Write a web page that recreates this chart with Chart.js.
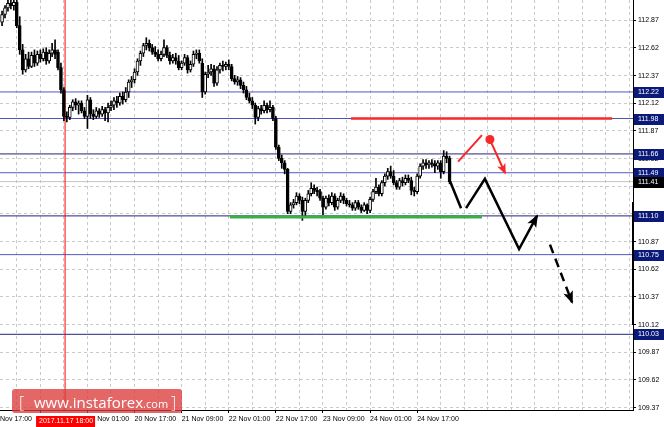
<!DOCTYPE html>
<html>
<head>
<meta charset="utf-8">
<script src="https://cdn.jsdelivr.net/npm/chart.js@4"></script>
<style>
  html, body { margin: 0; padding: 0; background: #fff; }
</style>
</head>
<body>
<canvas id="c" width="664" height="427"></canvas>
<script>
// USDJPY H1, candles (bar index 0 = left edge)
const opens = [
  112.85,112.92,112.98,113.02,113.00,113.03,112.82,112.60,112.42,112.52,
  112.45,112.55,112.48,112.56,112.52,112.58,112.50,112.57,112.60,112.58,
  112.44,112.24,112.00,111.99,112.08,112.13,112.10,112.12,112.05,112.00,
  112.15,112.02,112.00,112.05,112.02,112.06,112.03,112.08,112.10,112.14,
  112.12,112.18,112.15,112.22,112.31,112.33,112.40,112.50,112.57,112.64,
  112.66,112.62,112.58,112.56,112.52,112.56,112.62,112.55,112.50,112.53,
  112.50,112.44,112.48,112.53,112.42,112.47,112.56,112.57,112.48,112.22,
  112.38,112.40,112.43,112.30,112.42,112.46,112.45,112.47,112.45,112.34,
  112.31,112.33,112.28,112.24,112.17,112.14,112.10,111.99,112.07,112.05,
  112.10,112.06,112.08,111.98,111.72,111.62,111.58,111.52,111.14,111.20,
  111.22,111.28,111.24,111.14,111.24,111.30,111.35,111.33,111.32,111.26,
  111.18,111.26,111.22,111.28,111.18,111.24,111.28,111.24,111.21,111.20,
  111.17,111.22,111.18,111.15,111.20,111.15,111.25,111.32,111.36,111.30,
  111.40,111.46,111.50,111.46,111.40,111.36,111.42,111.40,111.44,111.42,
  111.33,111.32,111.46,111.55,111.58,111.56,111.58,111.57,111.55,111.58,
  111.50,111.64,111.62
];
const highs = [
  112.95,113.00,113.05,113.08,113.07,113.06,112.90,112.65,112.56,112.58,
  112.58,112.60,112.59,112.60,112.61,112.62,112.60,112.66,112.69,112.60,
  112.48,112.26,112.04,112.10,112.15,112.16,112.14,112.14,112.08,112.19,
  112.17,112.06,112.08,112.07,112.09,112.08,112.12,112.14,112.17,112.18,
  112.21,112.22,112.26,112.33,112.36,112.43,112.52,112.59,112.66,112.71,
  112.69,112.65,112.63,112.60,112.59,112.69,112.64,112.58,112.56,112.57,
  112.55,112.50,112.56,112.55,112.50,112.59,112.60,112.60,112.52,112.40,
  112.46,112.47,112.46,112.45,112.48,112.50,112.49,112.51,112.47,112.37,
  112.36,112.35,112.31,112.27,112.21,112.17,112.12,112.09,112.10,112.14,
  112.12,112.14,112.10,112.00,111.74,111.65,111.60,111.53,111.22,111.25,
  111.31,111.30,111.27,111.26,111.33,111.40,111.38,111.36,111.34,111.28,
  111.28,111.29,111.31,111.30,111.26,111.31,111.30,111.26,111.24,111.22,
  111.24,111.24,111.20,111.22,111.21,111.27,111.34,111.44,111.38,111.42,
  111.48,111.53,111.55,111.51,111.42,111.44,111.45,111.47,111.47,111.45,
  111.36,111.48,111.57,111.61,111.61,111.60,111.61,111.60,111.60,111.60,
  111.69,111.68,111.64
];
const lows = [
  112.82,112.89,112.95,112.97,112.96,112.80,112.56,112.38,112.40,112.43,
  112.44,112.45,112.46,112.49,112.50,112.47,112.48,112.54,112.52,112.42,
  112.21,111.96,111.95,111.97,112.05,112.06,112.02,112.03,111.98,111.89,
  111.98,111.97,111.98,111.99,112.00,111.96,111.95,112.05,112.06,112.08,
  112.10,112.11,112.13,112.17,112.26,112.30,112.37,112.46,112.54,112.60,
  112.59,112.56,112.54,112.50,112.50,112.54,112.53,112.47,112.48,112.47,
  112.42,112.42,112.46,112.39,112.40,112.45,112.52,112.48,112.17,112.20,
  112.35,112.37,112.27,112.28,112.39,112.41,112.42,112.42,112.32,112.29,
  112.28,112.25,112.21,112.15,112.12,112.07,111.93,111.96,112.02,112.03,
  112.03,112.04,111.96,111.70,111.60,111.53,111.48,111.12,111.12,111.17,
  111.20,111.21,111.06,111.10,111.22,111.28,111.30,111.28,111.24,111.11,
  111.16,111.19,111.20,111.15,111.16,111.22,111.21,111.19,111.18,111.15,
  111.15,111.16,111.13,111.14,111.12,111.13,111.23,111.30,111.28,111.28,
  111.37,111.43,111.44,111.38,111.34,111.34,111.37,111.38,111.40,111.29,
  111.28,111.30,111.44,111.52,111.53,111.53,111.54,111.49,111.52,111.44,
  111.48,111.58,111.39
];
const closes = [
  112.92,112.98,113.02,113.00,113.03,112.82,112.60,112.42,112.52,112.45,
  112.55,112.48,112.56,112.52,112.58,112.50,112.57,112.60,112.56,112.44,
  112.24,112.00,111.99,112.08,112.13,112.10,112.12,112.05,112.00,112.15,
  112.02,112.00,112.05,112.02,112.06,112.03,112.08,112.10,112.14,112.12,
  112.18,112.15,112.22,112.31,112.33,112.40,112.50,112.57,112.64,112.66,
  112.62,112.58,112.56,112.52,112.56,112.62,112.55,112.50,112.53,112.50,
  112.44,112.48,112.53,112.42,112.47,112.56,112.57,112.50,112.22,112.38,
  112.40,112.43,112.30,112.42,112.46,112.45,112.47,112.45,112.34,112.31,
  112.33,112.28,112.24,112.17,112.14,112.10,111.99,112.07,112.05,112.10,
  112.06,112.08,111.98,111.72,111.62,111.58,111.52,111.14,111.20,111.22,
  111.28,111.24,111.14,111.24,111.30,111.35,111.33,111.32,111.26,111.18,
  111.26,111.22,111.28,111.18,111.24,111.28,111.24,111.21,111.20,111.17,
  111.22,111.18,111.15,111.20,111.15,111.25,111.32,111.36,111.30,111.40,
  111.46,111.50,111.46,111.40,111.36,111.42,111.40,111.44,111.42,111.33,
  111.32,111.46,111.55,111.58,111.56,111.58,111.57,111.55,111.58,111.50,
  111.64,111.62,111.41
];

const priceTicks = [109.37,109.62,109.87,110.12,110.37,110.62,110.87,111.12,111.37,111.62,111.87,112.12,112.37,112.62,112.87];
const levels = [112.22, 111.98, 111.66, 111.49, 111.10, 110.75, 110.03];
const levelColors = ['#5656c4', '#5050bc', '#24247e', '#5656c4', '#24247e', '#5656c4', '#24247e'];
const currentPrice = 111.41;

// time axis: grid every 8 bars, labels every 16
const gridBars = [-4,5,13,21,29,37,45,53,61,69,77,85,93,101,109,117,125,133,141,149,157,165,173,181,189,197,205,213];
const labelBars = [-4, 13, 29, 45, 61, 77, 93, 109, 125, 141];
const labelTexts = ['16 Nov 17:00','17 Nov 09:00','20 Nov 01:00','20 Nov 17:00','21 Nov 09:00',
                    '22 Nov 01:00','22 Nov 17:00','23 Nov 09:00','24 Nov 01:00','24 Nov 17:00'];
const crosshairBar = 21.4;
const crosshairText = '2017.11.17 18:00';

// forecast drawing: [bar, price]
const support = { from: 77.4, to: 163.0, price: 111.09 };
const resistance = { from: 118.5, to: 207.2, price: 111.98 };
const zigzagA = [[152.2, 111.41], [155.9, 111.17]];
const zigzagB = [[157.6, 111.17], [164.0, 111.435], [175.6, 110.80], [181.7, 111.10]];
const dashedLeg = [[186.1, 110.84], [193.6, 110.32]];
const redRise = [[154.9, 111.59], [163.0, 111.83]];
const redDrop = [[165.7, 111.79], [170.8, 111.49]];
const redDot = [165.7, 111.79];
const scaleBar = [111.225, 110.115];

const xMin = -0.7, xMax = 214.3;
const yMin = 109.346, yMax = 113.051;

const FONT = "'Liberation Sans', Arial, sans-serif";

const idx = opens.map((o, i) => i);
const pts = arr => arr.map(([x, y]) => ({ x, y }));
const hline = (price, a, b) => [{ x: a, y: price }, { x: b, y: price }];
const lineDs = (data, color, width, order, extra) => Object.assign({
  type: 'line', data, borderColor: color, borderWidth: width, pointRadius: 0,
  tension: 0, fill: false, order
}, extra || {});

const datasets = [];
levels.forEach((l, k) => datasets.push(lineDs(hline(l, xMin, xMax), levelColors[k], 1, 9)));
datasets.push(lineDs(hline(currentPrice, xMin, xMax), '#c4c4c4', 1, 10));
datasets.push(lineDs([{ x: crosshairBar, y: yMin }, { x: crosshairBar, y: yMax }], '#ff0000', 1, 8));
datasets.push({
  type: 'bar', data: idx.map(i => ({ x: i, y: [lows[i], highs[i]] })),
  backgroundColor: '#000', barThickness: 1, grouped: false, order: 4
});
datasets.push({
  type: 'bar', data: idx.map(i => ({ x: i, y: [opens[i], closes[i]] })),
  backgroundColor: idx.map(i => closes[i] >= opens[i] ? '#ffffff' : '#000000'),
  borderColor: '#000', borderWidth: 1, borderSkipped: false, minBarLength: 1,
  barThickness: 3, grouped: false, order: 3
});
datasets.push(lineDs(hline(support.price, support.from, support.to), '#3cae48', 3, 2));
datasets.push(lineDs(hline(resistance.price, resistance.from, resistance.to), '#f62828', 2.5, 2));
datasets.push(lineDs(pts(zigzagA), '#000', 2.5, 1));
datasets.push(lineDs(pts(zigzagB), '#000', 2.5, 1, { arrowHead: [11, 5] }));
datasets.push(lineDs(pts(dashedLeg), '#000', 2.5, 1, { borderDash: [9, 6], arrowHead: [11, 5] }));
datasets.push(lineDs(pts(redRise), '#f62828', 2, 1));
datasets.push(lineDs(pts(redDrop), '#f62828', 2, 1, { arrowHead: [9, 4.5] }));
datasets.push(lineDs([{ x: redDot[0], y: redDot[1] }], '#f62828', 0, 0, {
  showLine: false, pointRadius: 4.5, pointBackgroundColor: '#f62828', pointBorderWidth: 0
}));

const arrows = {
  id: 'arrows',
  afterDatasetsDraw(chart) {
    const ctx = chart.ctx;
    chart.data.datasets.forEach((ds, i) => {
      if (!ds.arrowHead) return;
      const p = chart.getDatasetMeta(i).data;
      const a = p[p.length - 2], b = p[p.length - 1];
      const ang = Math.atan2(b.y - a.y, b.x - a.x);
      const [len, half] = ds.arrowHead;
      ctx.save();
      ctx.translate(b.x, b.y);
      ctx.rotate(ang);
      ctx.fillStyle = ds.borderColor;
      ctx.beginPath();
      ctx.moveTo(2, 0);
      ctx.lineTo(-len, -half);
      ctx.lineTo(-len + 3, 0);
      ctx.lineTo(-len, half);
      ctx.closePath();
      ctx.fill();
      ctx.restore();
    });
  }
};

// axis labels, level tags, crosshair tag and watermark
const overlay = {
  id: 'overlay',
  afterDraw(chart) {
    const ctx = chart.ctx, y = chart.scales.y, x = chart.scales.x;
    const area = chart.chartArea;
    ctx.save();
    ctx.strokeStyle = '#000';
    ctx.lineWidth = 2;
    ctx.beginPath();
    ctx.moveTo(area.right, y.getPixelForValue(scaleBar[0]));
    ctx.lineTo(area.right, y.getPixelForValue(scaleBar[1]));
    ctx.stroke();

    ctx.font = '7px ' + FONT;
    ctx.fillStyle = '#000';
    ctx.textBaseline = 'middle';
    ctx.textAlign = 'left';
    priceTicks.forEach(v => ctx.fillText(v.toFixed(2), area.right + 5, y.getPixelForValue(v) + 0.5));
    labelBars.forEach((b, k) => ctx.fillText(labelTexts[k], x.getPixelForValue(b), area.bottom + 9.5));

    const box = (v, fill) => {
      const py = Math.round(y.getPixelForValue(v));
      ctx.fillStyle = fill;
      ctx.fillRect(area.right + 1, py - 5, 31, 11);
      ctx.fillStyle = '#fff';
      ctx.textAlign = 'left';
      ctx.fillText(v.toFixed(2), area.right + 5, py + 0.5);
    };
    levels.forEach(l => box(l, '#0b1a78'));
    box(currentPrice, '#000');

    const cx = x.getPixelForValue(crosshairBar);
    ctx.fillStyle = '#ff0000';
    ctx.fillRect(cx - 29, 416, 59, 11);
    ctx.fillStyle = '#fff';
    ctx.textAlign = 'center';
    ctx.fillText(crosshairText, cx + 1, 421.5);

    ctx.fillStyle = 'rgba(221, 60, 60, 0.78)';
    ctx.beginPath();
    ctx.roundRect(12, 389, 170, 24, 3);
    ctx.fill();
    ctx.fillStyle = '#fff';
    ctx.textAlign = 'left';
    ctx.textBaseline = 'alphabetic';
    ctx.font = '300 16px "Open Sans", sans-serif';
    ctx.fillText('[', 19, 408);
    ctx.font = '15px "Open Sans", sans-serif';
    ctx.fillText('www.instaforex', 34, 408);
    const w = ctx.measureText('www.instaforex').width;
    ctx.font = '11px "Open Sans", sans-serif';
    ctx.fillText('.com', 34 + w, 408);
    const w2 = ctx.measureText('.com').width;
    ctx.font = '300 16px "Open Sans", sans-serif';
    ctx.fillText(']', 34 + w + w2 + 3, 408);
    ctx.restore();
  }
};

new Chart(document.getElementById('c'), {
  type: 'bar',
  data: { datasets },
  options: {
    responsive: false,
    devicePixelRatio: 1,
    animation: false,
    events: [],
    layout: { padding: 0, autoPadding: false },
    plugins: { legend: { display: false }, tooltip: { enabled: false } },
    scales: {
      x: {
        type: 'linear', min: xMin, max: xMax, offset: false,
        afterBuildTicks: s => { s.ticks = gridBars.map(v => ({ value: v })); },
        afterFit: s => { s.height = 17; },
        grid: {
          color: '#c9c9c9', tickLength: 3, offset: false,
          tickColor: c => (c.tick && labelBars.includes(c.tick.value)) ? '#000' : 'rgba(0,0,0,0)'
        },
        border: { color: '#000', dash: [3, 3] },
        ticks: { display: false }
      },
      y: {
        position: 'right', min: yMin, max: yMax,
        afterBuildTicks: s => { s.ticks = priceTicks.map(v => ({ value: v })); },
        afterFit: s => { s.width = 31; },
        grid: { color: '#c9c9c9', tickColor: '#000', tickLength: 3 },
        border: { color: '#000', dash: [3, 3] },
        ticks: { display: false }
      }
    }
  },
  plugins: [arrows, overlay]
});
</script>
</body>
</html>
